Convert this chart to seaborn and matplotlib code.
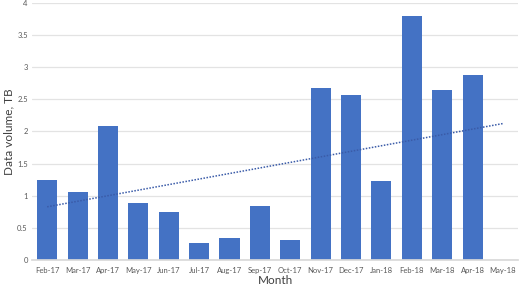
import numpy as np
import pandas as pd
import matplotlib
matplotlib.use("Agg")
import matplotlib.pyplot as plt
import seaborn as sns

months = ["Feb-17", "Mar-17", "Apr-17", "May-17", "Jun-17", "Jul-17", "Aug-17", "Sep-17",
          "Oct-17", "Nov-17", "Dec-17", "Jan-18", "Feb-18", "Mar-18", "Apr-18", "May-18"]
volume_tb = [1.25, 1.06, 2.08, 0.88, 0.75, 0.27, 0.35, 0.845,
             0.316, 2.68, 2.57, 1.23, 3.80, 2.65, 2.875, 0.0]
yticks = [0, 0.5, 1, 1.5, 2, 2.5, 3, 3.5, 4]

sns.set_theme(style="white")
plt.rcParams['font.family'] = ['Lato', 'DejaVu Sans']

df = pd.DataFrame({"month": months, "volume": volume_tb})

fig = plt.figure(figsize=(5.2, 2.87), dpi=100)
ax = fig.add_axes([0.0615, 0.094, 0.935, 0.896])

sns.barplot(data=df, x="month", y="volume", color="#4472C4", saturation=1,
            width=0.66, linewidth=0, ax=ax)

# linear trendline (Excel style, blank month counted as 0)
x = np.arange(len(volume_tb))
k, b = np.polyfit(x, volume_tb, 1)
ax.plot(x, k * x + b, linestyle=(0, (1, 1)), color="#3A5BA8", linewidth=1.1)

ax.set_xlim(-0.5, len(months) - 0.5)
ax.set_ylim(0, 4)
ax.set_yticks(yticks)
ax.set_yticklabels([f"{t:g}" for t in yticks])
ax.yaxis.grid(True, color="#E3E3E3", linewidth=0.9)
ax.set_axisbelow(True)
for s in ["top", "right", "left"]:
    ax.spines[s].set_visible(False)
ax.spines["bottom"].set_color("#D9D9D9")
ax.tick_params(axis="both", labelsize=5.5, colors="#595959", length=0, pad=3)
ax.tick_params(axis="x", pad=5)
ax.set_xlabel("Month", fontsize=8.5, color="#404040", labelpad=1)
ax.set_ylabel("Data volume, TB", fontsize=8.5, color="#404040", va="center")
ax.yaxis.set_label_coords(-0.047, 0.5)

fig.savefig("out.png", dpi=100)
